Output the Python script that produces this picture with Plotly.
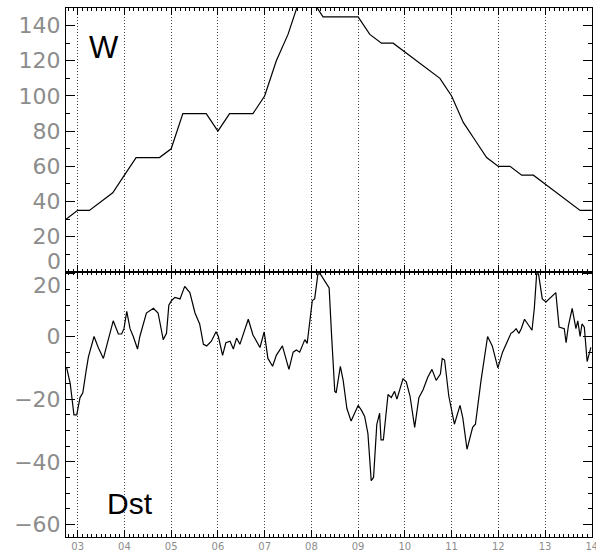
import plotly.graph_objects as go

# ---- data ----
w_days = [2.75, 3.0, 3.25, 3.75, 4.0, 4.25, 4.75, 5.0, 5.25, 5.75, 6.0, 6.25, 6.75, 7.0,
          7.25, 7.5, 7.75, 8.0, 8.25, 9.0, 9.25, 9.5, 9.75, 10.0, 10.25, 10.5, 10.75,
          11.0, 11.25, 11.5, 11.75, 12.0, 12.25, 12.5, 12.75, 13.0, 13.25, 13.5, 13.75, 14.0]
w_vals = [30, 35, 35, 45, 55, 65, 65, 70, 90, 90, 80, 90, 90, 100,
          120, 135, 155, 155, 145, 145, 135, 130, 130, 125, 120, 115, 110,
          100, 85, 75, 65, 60, 60, 55, 55, 50, 45, 40, 35, 35]

dst_days = [2.765, 2.84, 2.92, 2.98, 3.05, 3.11, 3.18, 3.23, 3.35, 3.44, 3.55, 3.66, 3.76,
            3.87, 3.94, 3.99, 4.05, 4.12, 4.19, 4.28, 4.33, 4.47, 4.62, 4.72, 4.83, 4.90,
            4.95, 5.01, 5.08, 5.19, 5.29, 5.40, 5.51, 5.61, 5.69, 5.76, 5.86, 5.96, 6.01,
            6.10, 6.17, 6.26, 6.33, 6.40, 6.47, 6.65, 6.75, 6.90, 6.99, 7.07, 7.17, 7.25,
            7.38, 7.52, 7.61, 7.68, 7.75, 7.86, 7.91, 7.96, 8.02, 8.07, 8.14, 8.19, 8.25,
            8.31, 8.38, 8.43, 8.50, 8.53, 8.62, 8.68, 8.76, 8.85, 8.90, 9.00, 9.07, 9.14,
            9.21, 9.28, 9.33, 9.40, 9.46, 9.49, 9.54, 9.64, 9.71, 9.78, 9.83, 9.96, 10.03,
            10.11, 10.21, 10.30, 10.39, 10.49, 10.58, 10.67, 10.76, 10.80, 10.85, 10.94,
            11.06, 11.18, 11.24, 11.33, 11.45, 11.51, 11.63, 11.77, 11.87, 11.99, 12.09,
            12.20, 12.27, 12.32, 12.38, 12.44, 12.49, 12.56, 12.61, 12.65, 12.72, 12.77,
            12.82, 12.86, 12.94, 13.02, 13.23, 13.30, 13.41, 13.45, 13.50, 13.58, 13.66,
            13.70, 13.75, 13.79, 13.84, 13.90, 13.95, 13.98]
dst_vals = [-10, -15, -25, -25, -19.5, -18, -11, -6.5, 0, -3.5, -7, -1, 5,
            0.8, 0.8, 2.5, 8, 2.5, 0, -4, 0, 7.5, 9, 7.5, -1, 1,
            10, 11.5, 12.5, 12, 16, 14, 7.5, 4, -2.5, -3, -1.5, 1.5, 0,
            -6, -2, -1.5, -4, -0.5, -2.5, 5.5, 0.5, -3.5, 1.5, -7, -9.5, -6,
            -3, -10.5, -5, -4.3, -5, -1, -2.2, 4, 11.5, 12, 20, 20, 18.5,
            17, 15.5, 1, -17.5, -18, -9.5, -14, -23, -27, -25.5, -22, -23.5, -25.5,
            -31, -46, -45, -28, -24.5, -33, -33, -18.5, -19.5, -17.5, -20, -13.5, -14.5,
            -19, -29, -19.5, -17, -13, -10.5, -14, -12, -7, -7.5, -19,
            -28, -22, -26, -36, -29, -28, -14, 0, -3, -10, -5,
            -1, 1, 1.5, 2.5, 1, 2.5, 5.5, 4.5, 3.5, 2, 9,
            20, 20, 12, 11, 14, 3, 2.5, -2, 3.5, 9, 2.5,
            5, 0, 4, 3, -8, -4.5, -3.5]

x_tick_vals = [3, 4, 5, 6, 7, 8, 9, 10, 11, 12, 13, 14]
x_tick_text = ["03", "04", "05", "06", "07", "08", "09", "10", "11", "12", "13", "14"]
w_tick_vals = [0, 20, 40, 60, 80, 100, 120, 140]
w_tick_text = ["", "20", "40", "60", "80", "100", "120", "140"]
dst_tick_vals = [-60, -40, -20, 0, 20]
dst_tick_text = ["\u221260", "\u221240", "\u221220", "0", ""]

X_RANGE = [2.75, 14.004]
W_RANGE = [0, 150]
DST_RANGE = [-64, 20.6]

# ---- figure ----
fig = go.Figure()
fig.add_trace(go.Scatter(x=w_days, y=w_vals, mode="lines", xaxis="x2", yaxis="y2",
                         line=dict(color="black", width=1.2), showlegend=False))
fig.add_trace(go.Scatter(x=dst_days, y=dst_vals, mode="lines", xaxis="x", yaxis="y",
                         line=dict(color="black", width=1.2), showlegend=False))
# out-of-range helper traces so that the mirrored tick-only axes get drawn
for xa, ya in [("x3", "y2"), ("x2", "y3"), ("x4", "y"), ("x", "y4")]:
    fig.add_trace(go.Scatter(x=[-100], y=[-1000], mode="markers", xaxis=xa, yaxis=ya,
                             marker=dict(size=1, color="white"), showlegend=False,
                             hoverinfo="skip"))

tick_font = dict(family="DejaVu Sans", size=22, color="#8c8c8c")
split = 0.501

xminor = dict(ticks="inside", ticklen=3, tickcolor="black", dtick=0.1, tick0=3, showgrid=False)
xcommon = dict(range=X_RANGE, autorange=False, automargin=False, tickmode="array",
               tickvals=x_tick_vals, ticktext=x_tick_text,
               ticks="inside", ticklen=7, tickcolor="black", mirror="ticks",
               showline=True, linecolor="black", linewidth=1,
               showgrid=True, gridcolor="#444444", gridwidth=1, griddash="1px,2px",
               zeroline=False, minor=xminor)
xtickonly = dict(range=X_RANGE, autorange=False, automargin=False, tickmode="array",
                 tickvals=x_tick_vals,
                 ticks="inside", ticklen=7, tickcolor="black", showticklabels=False,
                 showline=False, showgrid=False, zeroline=False, minor=xminor)

ycommon = dict(tickmode="array", ticks="inside", ticklen=9, tickcolor="black",
               mirror="ticks", showline=True, linecolor="black", linewidth=1,
               showgrid=False, zeroline=False, tickfont=tick_font, ticklabelstandoff=0,
               autorange=False, automargin=False)
ytickonly = dict(side="right", autorange=False, automargin=False, tickmode="array",
                 ticks="inside", ticklen=9, tickcolor="black", showticklabels=False,
                 showline=False, showgrid=False, zeroline=False)

fig.update_layout(
    width=596, height=556,
    margin=dict(l=66, r=4, t=8, b=19),
    paper_bgcolor="white", plot_bgcolor="white",
    xaxis=dict(xcommon, anchor="y", showticklabels=True, ticklabeloverflow="allow",
               tickfont=dict(family="DejaVu Sans", size=10, color="#8c8c8c")),
    xaxis2=dict(xcommon, anchor="y2", showticklabels=False),
    xaxis3=dict(xtickonly, overlaying="x2", side="top", anchor="y2"),
    xaxis4=dict(xtickonly, overlaying="x", side="top", anchor="y"),
    yaxis=dict(ycommon, domain=[0, split], range=DST_RANGE, anchor="x",
               tickvals=dst_tick_vals, ticktext=dst_tick_text,
               minor=dict(ticks="inside", ticklen=4, tickcolor="black", dtick=5, tick0=0)),
    yaxis2=dict(ycommon, domain=[split, 1], range=W_RANGE, anchor="x2",
                tickvals=w_tick_vals, ticktext=w_tick_text,
                minor=dict(ticks="inside", ticklen=4, tickcolor="black", dtick=10, tick0=0)),
    yaxis3=dict(ytickonly, overlaying="y2", anchor="x2", range=W_RANGE,
                tickvals=w_tick_vals,
                minor=dict(ticks="inside", ticklen=4, tickcolor="black", dtick=10, tick0=0)),
    yaxis4=dict(ytickonly, overlaying="y", anchor="x", range=DST_RANGE,
                tickvals=dst_tick_vals,
                minor=dict(ticks="inside", ticklen=4, tickcolor="black", dtick=5, tick0=0)),
    annotations=[
        dict(text="W", x=0.04, y=0.926, xref="paper", yref="paper", showarrow=False,
             xanchor="left", yanchor="middle",
             font=dict(family="Liberation Sans", size=31, color="black")),
        dict(text="Dst", x=0.075, y=0.063, xref="paper", yref="paper", showarrow=False,
             xanchor="left", yanchor="middle",
             font=dict(family="Liberation Sans", size=30, color="black")),
        dict(text="0", x=0, y=0, xref="paper", yref="y2", showarrow=False,
             xanchor="right", yanchor="middle", xshift=-3, yshift=10, font=tick_font),
        dict(text="20", x=0, y=20, xref="paper", yref="y", showarrow=False,
             xanchor="right", yanchor="middle", xshift=-3, yshift=-12, font=tick_font),
    ],
)

fig.write_html("out.html")
